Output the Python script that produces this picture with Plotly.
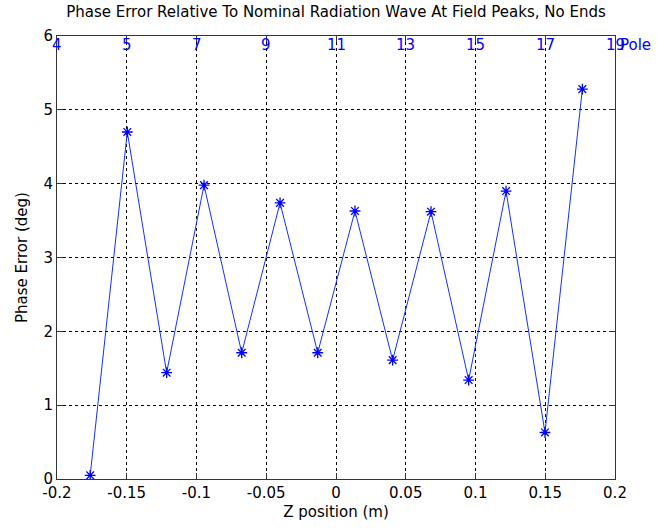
import plotly.graph_objects as go

z_pos = [-0.1762, -0.1496, -0.1214, -0.0946, -0.0676, -0.0401, -0.0131,
         0.0136, 0.0406, 0.0681, 0.0951, 0.1219, 0.1498, 0.1766]
phase_err = [0.05, 4.70, 1.44, 3.98, 1.71, 3.74, 1.71,
             3.63, 1.61, 3.62, 1.34, 3.90, 0.63, 5.28]

x_ticks = [-0.2, -0.15, -0.1, -0.05, 0, 0.05, 0.1, 0.15, 0.2]
x_ticklabels = ["-0.2", "-0.15", "-0.1", "-0.05", "0", "0.05", "0.1", "0.15", "0.2"]
pole_labels = ["4", "5", "7", "9", "11", "13", "15", "17", "19"]
y_ticks = [0, 1, 2, 3, 4, 5, 6]

FONT = "DejaVu Sans"
FS = 15

fig = go.Figure()
fig.add_trace(go.Scatter(
    x=z_pos, y=phase_err, mode="lines+markers",
    line=dict(color="#1030FF", width=1),
    marker=dict(symbol="asterisk-open", size=9, color="#0000FF",
                line=dict(color="#0000FF", width=1.3)),
    showlegend=False,
))

annotations = []
for xv, lab in zip(x_ticks, pole_labels):
    annotations.append(dict(x=xv, y=1, xref="x", yref="paper", text=lab,
                            showarrow=False, xanchor="center", yanchor="top",
                            yshift=2, font=dict(family=FONT, size=FS, color="#0000FF")))
annotations.append(dict(x=x_ticks[-1], y=1, xref="x", yref="paper", text="Pole",
                        showarrow=False, xanchor="left", yanchor="top", xshift=3,
                        yshift=2, font=dict(family=FONT, size=FS, color="#0000FF")))

fig.update_layout(
    width=657, height=531,
    margin=dict(l=57, r=42, t=36, b=52),
    paper_bgcolor="white", plot_bgcolor="white",
    font=dict(family=FONT, size=FS, color="black"),
    title=dict(text="Phase Error Relative To Nominal Radiation Wave At Field Peaks, No Ends",
               x=0.5, xref="paper", xanchor="center", y=0.988, yanchor="top",
               font=dict(family=FONT, size=FS, color="black")),
    annotations=annotations,
)
fig.update_xaxes(
    range=[-0.2, 0.2], tickvals=x_ticks, ticktext=x_ticklabels,
    showgrid=True, gridcolor="black", griddash="3px,3px", gridwidth=1,
    showline=True, linecolor="#333333", linewidth=1, mirror="ticks",
    ticks="inside", ticklen=6, tickcolor="#333333",
    zeroline=False,
    title=dict(text="Z position (m)", standoff=5, font=dict(family=FONT, size=FS)),
)
fig.update_yaxes(
    range=[0, 6], tickvals=y_ticks,
    showgrid=True, gridcolor="black", griddash="3px,3px", gridwidth=1,
    showline=True, linecolor="#333333", linewidth=1, mirror="ticks",
    ticks="inside", ticklen=6, tickcolor="#333333",
    zeroline=False,
    title=dict(text="Phase Error (deg)", standoff=12, font=dict(family=FONT, size=FS)),
)

fig.write_html("out.html")
